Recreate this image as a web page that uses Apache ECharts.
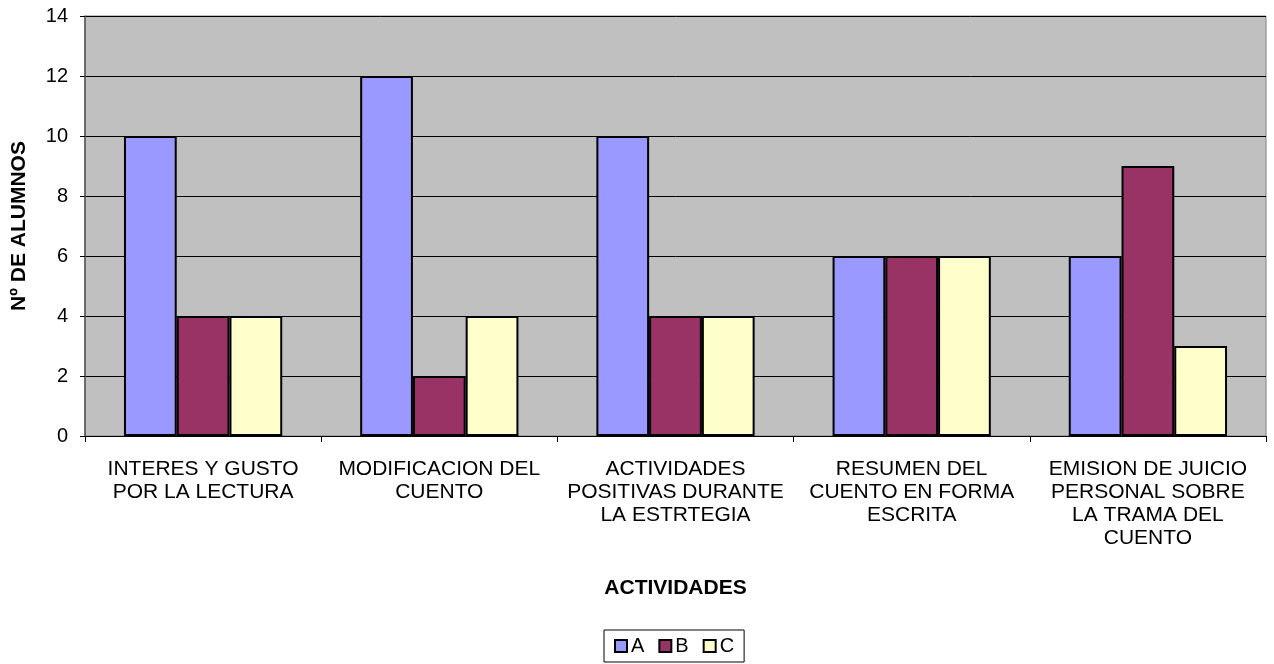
<!DOCTYPE html>
<html><head><meta charset="utf-8">
<script src="https://cdn.jsdelivr.net/npm/echarts@6/dist/echarts.min.js"></script>
<style>html,body{margin:0;padding:0;background:#fff}#c{width:1274px;height:664px}</style>
</head><body><div id="c"></div>
<script>
const categories = [
  'INTERES Y GUSTO\nPOR LA LECTURA',
  'MODIFICACION DEL\nCUENTO',
  'ACTIVIDADES\nPOSITIVAS DURANTE\nLA ESTRTEGIA',
  'RESUMEN DEL\nCUENTO EN FORMA\nESCRITA',
  'EMISION DE JUICIO\nPERSONAL SOBRE\nLA TRAMA DEL\nCUENTO'
];
const seriesA = [10, 12, 10, 6, 6];
const seriesB = [4, 2, 4, 6, 9];
const seriesC = [4, 4, 4, 6, 3];
const yTicks = {min: 0, max: 14, interval: 2};

const font = 'Arial, "Liberation Sans", sans-serif';
const chart = echarts.init(document.getElementById('c'));
const mk = (name, data, color) => ({
  name, type: 'bar', data, barGap: '0%', barCategoryGap: '33%',
  itemStyle: {color, borderColor: '#000', borderWidth: 2},
  emphasis: {disabled: true}
});
chart.setOption({
  animation: false,
  grid: {left: 85, right: 8, top: 16, bottom: 228, outerBoundsMode: 'none', containLabel: false,
         show: true, backgroundColor: '#C0C0C0', borderColor: '#808080', borderWidth: 1},
  legend: {
    bottom: 2, left: 604, data: ['A','B','C'], icon: 'rect',
    itemWidth: 12, itemHeight: 12, itemGap: 14,
    borderColor: '#000', borderWidth: 1, padding: [6, 10, 6, 10],
    textStyle: {fontFamily: font, fontSize: 20, color: '#000', padding: [0,0,0,-1]},
    itemStyle: {borderColor: '#000', borderWidth: 2}
  },
  xAxis: {
    type: 'category', data: categories,
    name: 'ACTIVIDADES', nameLocation: 'middle', nameGap: 142,
    nameTextStyle: {fontFamily: font, fontSize: 21, fontWeight: 'bold', color: '#000'},
    axisLine: {lineStyle: {color: '#000', width: 1}},
    axisTick: {show: true, length: 6, lineStyle: {color: '#000'}, alignWithLabel: false},
    axisLabel: {fontFamily: font, fontSize: 21, color: '#000', lineHeight: 23, margin: 22, interval: 0}
  },
  yAxis: {
    type: 'value', min: yTicks.min, max: yTicks.max, interval: yTicks.interval,
    name: 'Nº DE ALUMNOS', nameLocation: 'middle', nameGap: 55, nameRotate: 90,
    nameTextStyle: {fontFamily: font, fontSize: 21, fontWeight: 'bold', color: '#000'},
    axisLine: {show: true, lineStyle: {color: '#555', width: 1.5}},
    axisTick: {show: true, length: 5, lineStyle: {color: '#000'}},
    axisLabel: {fontFamily: font, fontSize: 20, color: '#000', margin: 17},
    splitLine: {show: true, lineStyle: {color: '#000', width: 1}}
  },
  series: [mk('A', seriesA, '#9999FF'), mk('B', seriesB, '#993366'), mk('C', seriesC, '#FFFFCC')]
});
</script></body></html>
